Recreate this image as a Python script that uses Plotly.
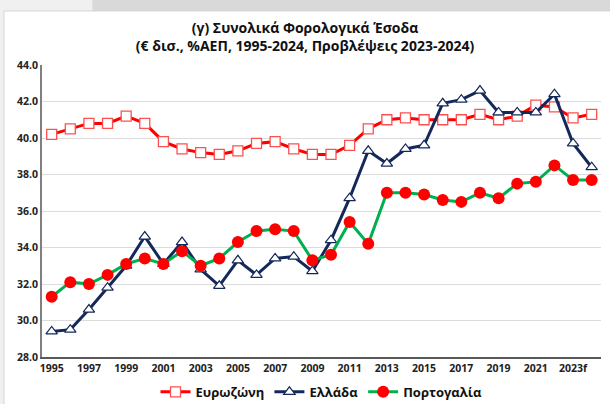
import plotly.graph_objects as go

years = list(range(1995, 2025))
tick_years = list(range(1995, 2025, 2))
tick_labels = [str(y) for y in range(1995, 2023, 2)] + ["2023f"]

eurozone = [40.2, 40.5, 40.8, 40.8, 41.2, 40.8, 39.8, 39.4, 39.2, 39.1,
            39.3, 39.7, 39.8, 39.4, 39.1, 39.1, 39.6, 40.5, 41.0, 41.1,
            41.0, 41.0, 41.0, 41.3, 41.0, 41.2, 41.8, 41.7, 41.1, 41.3]
greece = [29.4, 29.5, 30.6, 31.8, 33.0, 34.6, 33.1, 34.3, 32.8, 31.9,
          33.3, 32.5, 33.4, 33.5, 32.7, 34.4, 36.7, 39.3, 38.6, 39.4,
          39.6, 41.9, 42.1, 42.6, 41.4, 41.4, 41.4, 42.4, 39.7, 38.4]
portugal = [31.3, 32.1, 32.0, 32.5, 33.1, 33.4, 33.1, 33.8, 33.0, 33.4,
            34.3, 34.9, 35.0, 34.9, 33.3, 33.6, 35.4, 34.2, 37.0, 37.0,
            36.9, 36.6, 36.5, 37.0, 36.7, 37.5, 37.6, 38.5, 37.7, 37.7]

font = "Open Sans"

fig = go.Figure()
fig.add_trace(go.Scatter(
    x=years, y=eurozone, name="<b>Ευρωζώνη</b>", mode="lines+markers",
    line=dict(color="#ff0000", width=3),
    marker=dict(symbol="square", size=10, color="white",
                line=dict(color="#ff5050", width=1.3))))
fig.add_trace(go.Scatter(
    x=years, y=greece, name="<b>Ελλάδα</b>", mode="lines+markers",
    line=dict(color="#14285a", width=3),
    marker=dict(symbol="triangle-up", size=10, color="white",
                line=dict(color="#14285a", width=1.2))))
fig.add_trace(go.Scatter(
    x=years, y=portugal, name="<b>Πορτογαλία</b>", mode="lines+markers",
    line=dict(color="#00b050", width=3),
    marker=dict(symbol="circle", size=12, color="#ff0000",
                line=dict(width=0))))

# background: grey page strip and white panel
fig.add_shape(type="rect", xref="paper", yref="paper",
              x0=-0.2, x1=1.1, y0=-0.3, y1=1.3,
              fillcolor="#f0f0f0", line_width=0, layer="below")
fig.add_shape(type="rect", xref="paper", yref="paper",
              x0=0.09, x1=1.1, y0=1.18, y1=1.3,
              fillcolor="#d9d9d9", line_width=0, layer="below")
fig.add_shape(type="rect", xref="paper", yref="paper",
              x0=-0.068, x1=1.1, y0=-0.3, y1=1.185,
              fillcolor="white", line=dict(color="#d4d4d4", width=1),
              layer="below")

fig.update_layout(
    width=610, height=404,
    margin=dict(l=42, r=9, t=65, b=47, autoexpand=False),
    paper_bgcolor="#f0f0f0", plot_bgcolor="white",
    font=dict(family=font, color="#1a1a1a"),
    title=dict(text="<b>(γ) Συνολικά Φορολογικά Έσοδα<br>(€ δισ., %ΑΕΠ, 1995-2024, Προβλέψεις 2023-2024)</b>",
               x=0.5, xanchor="center", y=0.918, yanchor="middle",
               font=dict(size=14, color="#111111")),
    showlegend=True,
    legend=dict(orientation="h", x=0.5, xanchor="center",
                yref="container", y=0.03, yanchor="middle",
                font=dict(size=13, color="#111111"), itemwidth=30,
                tracegroupgap=0, bgcolor="rgba(0,0,0,0)"),
    xaxis=dict(range=[1994.48, 2024.5], tickvals=tick_years, ticktext=tick_labels,
               showgrid=False, showline=True, linecolor="#595959", linewidth=2,
               ticks="", tickfont=dict(size=10.5, color="#222222", weight="bold"),
               zeroline=False, automargin=False),
    yaxis=dict(range=[28, 44], dtick=2, tickformat=".1f", showgrid=True,
               gridcolor="#dcdcdc", gridwidth=1.3, showline=True,
               linecolor="#7f7f7f", linewidth=2, ticks="",
               tickfont=dict(size=10.5, color="#222222", weight="bold"),
               zeroline=False, automargin=False),
)

fig.write_html("out.html", config={"displayModeBar": False},
               post_script="document.body.style.margin='0';")
